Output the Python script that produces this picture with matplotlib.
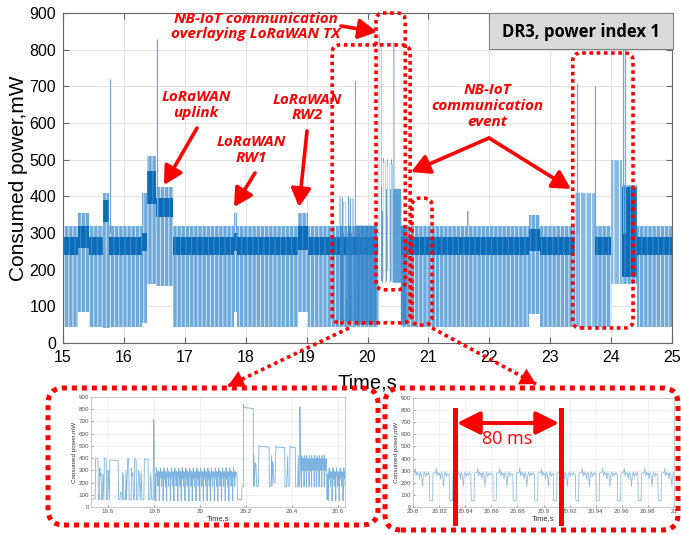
import matplotlib
matplotlib.use("Agg")
import matplotlib.pyplot as plt
from matplotlib.patches import FancyBboxPatch, Rectangle, FancyArrowPatch
from matplotlib.lines import Line2D
from matplotlib.transforms import IdentityTransform

# ---------------- main trace: dense sections (time range, floor/top of the light band, dark core)
band_start = [15.00, 15.24, 15.42, 15.66, 15.76, 16.30, 16.38, 16.52, 16.80, 17.80, 17.86, 18.86, 19.02,
              19.50, 19.72, 20.55, 21.63, 21.67, 22.66, 22.84, 23.73, 24.18, 24.42]
band_end = [15.24, 15.42, 15.66, 15.76, 16.30, 16.38, 16.52, 16.80, 17.80, 17.86, 18.86, 19.02, 19.50,
            19.72, 20.18, 21.63, 21.67, 22.66, 22.84, 23.40, 24.00, 24.42, 25.00]
band_floor = [45, 85, 45, 40, 45, 55, 160, 155, 45, 85, 45, 85, 45, 45, 45, 45, 45, 45, 80, 45, 45, 160, 45]
band_top = [320, 355, 320, 410, 320, 410, 510, 425, 320, 355, 320, 355, 320, 320, 320, 320, 360, 320, 350, 320,
            320, 430, 320]
core_lo = [240, 260, 240, 330, 240, 250, 380, 345, 240, 250, 240, 255, 240, 240, 240, 240, 240, 240, 250, 240,
           240, 180, 240]
core_hi = [288, 318, 288, 390, 288, 300, 470, 395, 288, 300, 288, 320, 288, 288, 288, 288, 288, 288, 310, 288,
           288, 425, 288]

# sparse sections (NB-IoT event at ~23.5 s)
sparse_start = [23.40, 24.00]
sparse_end = [23.73, 24.18]
sparse_floor = [45, 160]
sparse_top = [410, 500]

# isolated spikes
spike_t = [15.77, 16.54, 23.44, 23.73, 24.20, 24.23]
spike_p = [720, 830, 710, 700, 900, 895]

# ---------------- detailed trace 19.5 - 20.65 s (left zoom)
part1_t = [19.515, 19.544, 19.546, 19.556, 19.558, 19.562, 19.5645, 19.566, 19.570, 19.572, 19.576, 19.578,
           19.582, 19.584, 19.592, 19.594, 19.598, 19.600, 19.602, 19.606, 19.608, 19.644, 19.646, 19.652,
           19.654, 19.660, 19.662, 19.664, 19.666, 19.670, 19.676, 19.678, 19.680, 19.686, 19.690, 19.692,
           19.700, 19.702, 19.704, 19.708, 19.710, 19.714, 19.716, 19.722, 19.724, 19.730, 19.732, 19.736,
           19.740, 19.744, 19.748, 19.756, 19.758, 19.774, 19.776, 19.782, 19.786, 19.790, 19.796, 19.798,
           19.800, 19.802, 19.806]
part1_p = [65, 65, 400, 395, 60, 60, 320, 250, 275, 60, 60, 270,
           60, 400, 395, 60, 60, 300, 265, 60, 385, 380, 60, 60,
           120, 110, 60, 280, 250, 60, 60, 300, 60, 400, 395, 60,
           60, 320, 260, 280, 60, 60, 395, 390, 60, 60, 300, 260,
           60, 290, 60, 60, 395, 385, 60, 60, 280, 60, 60, 715,
           700, 60, 60]

part2_t = [20.160, 20.163, 20.181, 20.182, 20.188, 20.189, 20.192, 20.231, 20.232, 20.234, 20.236, 20.240,
           20.243, 20.246, 20.250, 20.254, 20.256, 20.260, 20.300, 20.301, 20.308, 20.311, 20.313, 20.316,
           20.318, 20.321, 20.326, 20.330, 20.334, 20.368, 20.369, 20.376, 20.381, 20.383, 20.390, 20.391,
           20.395, 20.414, 20.415, 20.424, 20.427, 20.429, 20.433, 20.434, 20.436, 20.440]
part2_p = [280, 60, 60, 170, 170, 840, 815, 805, 170, 425, 170, 360,
           350, 170, 165, 175, 505, 495, 490, 165, 170, 420, 170, 370,
           340, 200, 200, 500, 490, 485, 165, 170, 420, 170, 170, 500,
           490, 485, 165, 170, 420, 165, 165, 820, 400, 165]

part3_t = [20.550, 20.551, 20.556]
part3_p = [380, 60, 60]

# one idle cycle of the NB-IoT module (ms after the dip, mW)
idle_ms = [0.0, 0.3, 2.5, 2.8, 4.8, 5.3, 5.8, 6.6, 7.4, 8.0, 8.6, 9.2, 10.0, 10.8, 11.4, 12.2, 13.0, 13.8, 14.6, 15.4, 16.0]
idle_mw = [270, 55, 50, 280, 285, 320, 255, 290, 265, 280, 230, 285, 270, 170, 260, 290, 250, 280, 265, 285, 270]

# one cycle while LoRaWAN TX overlays (ms, mW)
tx_ms = [0.0, 0.4, 1.6, 2.0, 2.6, 3.6, 4.6, 5.4, 6.2, 7.0, 7.6, 8.6, 9.6, 10.6]
tx_mw = [380, 165, 165, 420, 385, 370, 395, 360, 390, 300, 385, 375, 395, 380]

idleA_starts = [19.806, 19.822, 19.838, 19.853, 19.870, 19.885, 19.902, 19.917, 19.933, 19.950, 19.965,
                19.981, 19.997, 20.013, 20.029, 20.044, 20.061, 20.076, 20.092, 20.108, 20.124, 20.140]
tx_starts = [20.440, 20.451, 20.4615, 20.473, 20.4835, 20.495, 20.506, 20.5165, 20.528, 20.539]
idleA2_starts = [20.556, 20.5725, 20.588, 20.6035, 20.620, 20.6355]
idleB_starts = [20.7965, 20.8125, 20.8278, 20.8443, 20.8612, 20.8765, 20.8930, 20.9075, 20.9244,
                20.9401, 20.9566, 20.9723, 20.9876]

yticks = list(range(0, 1000, 100))


def tile(starts, end, ms, mw):
    ts, ps = [], []
    for i, s in enumerate(starts):
        nxt = starts[i + 1] if i + 1 < len(starts) else end
        for o, v in zip(ms, mw):
            if s + o / 1000 < nxt:
                ts.append(s + o / 1000)
                ps.append(v)
    return ts, ps


ia_t, ia_p = tile(idleA_starts, 20.160, idle_ms, idle_mw)
tx_t, tx_p = tile(tx_starts, 20.550, tx_ms, tx_mw)
ia2_t, ia2_p = tile(idleA2_starts, 20.65, idle_ms, idle_mw)
trace_t = part1_t + ia_t + part2_t + tx_t + part3_t + ia2_t
trace_p = part1_p + ia_p + part2_p + tx_p + part3_p + ia2_p
zoomB_t, zoomB_p = tile(idleB_starts, 21.004, idle_ms, idle_mw)

# ---------------- figure
W, H = 681, 535
plt.rcParams['font.family'] = ['Liberation Sans', 'DejaVu Sans']
plt.rcParams['hatch.linewidth'] = 0.7
fig = plt.figure(figsize=(W / 100, H / 100), dpi=100)


def fr(x0, y0, x1, y1):
    return [x0 / W, 1 - y1 / H, (x1 - x0) / W, (y1 - y0) / H]


light = '#6ea9dc'
dark = '#0b6cb8'
line_c = '#2a80c8'

ax = fig.add_axes(fr(63, 13, 672, 343))
for t0, t1, lo, hi, c0, c1 in zip(band_start, band_end, band_floor, band_top, core_lo, core_hi):
    ax.fill_between([t0, t1], [lo, lo], [hi, hi], facecolor=light, edgecolor='#d6e7f6', hatch='||||', lw=0)
    ax.fill_between([t0, t1], [c0, c0], [c1, c1], facecolor=dark, edgecolor='#3f8cd1', hatch='|||', lw=0)
for t0, t1, lo, hi in zip(sparse_start, sparse_end, sparse_floor, sparse_top):
    ax.fill_between([t0, t1], [lo, lo], [hi, hi], facecolor='#86b9e4', edgecolor='#ffffff', hatch='|||', lw=0)
ax.vlines(spike_t, 300, spike_p, color=light, lw=0.9)
ax.plot(trace_t, trace_p, color=line_c, lw=0.35, alpha=0.75)

ax.set_xlim(15, 25)
ax.set_ylim(0, 900)
ax.set_xticks(range(15, 26))
ax.set_yticks(yticks)
ax.grid(color='#e4e4e4', lw=0.8)
ax.set_axisbelow(True)
ax.tick_params(direction='in', top=True, right=True, length=4, labelsize=11.5, color='#666666', pad=5)
for s in ax.spines.values():
    s.set_color('#666666')
    s.set_linewidth(0.8)
ax.set_ylabel('Consumed power,mW', fontsize=15, labelpad=1)
ax.set_xlabel('Time,s', fontsize=14.5, labelpad=6)


def style_inset(a):
    a.set_ylim(0, 900)
    a.set_yticks(yticks)
    a.grid(color='#ececec', lw=0.5)
    a.set_axisbelow(True)
    a.tick_params(direction='in', length=1.5, labelsize=4.5, colors='#555555', pad=1.5, width=0.4)
    for s in a.spines.values():
        s.set_color('#c0c0c0')
        s.set_linewidth(0.6)
    a.set_ylabel('Consumed power,mW', fontsize=4.5, labelpad=1, color='#333333')
    a.set_xlabel('Time,s', fontsize=5.5, labelpad=0.5, color='#333333')


axA = fig.add_axes(fr(91, 397, 345, 507))
axA.plot(trace_t, trace_p, color='#7db3e0', lw=0.6)
axA.set_xlim(19.526, 20.63)
axA.set_xticks([19.6, 19.8, 20.0, 20.2, 20.4, 20.6])
axA.set_xticklabels(['19.6', '19.8', '20', '20.2', '20.4', '20.6'])
style_inset(axA)

axB = fig.add_axes(fr(413, 398, 674, 507))
axB.plot(zoomB_t, zoomB_p, color='#8fbde3', lw=0.6)
axB.set_xlim(20.8, 21.0)
bt = [20.8 + 0.02 * i for i in range(11)]
axB.set_xticks(bt)
axB.set_xticklabels(['20.8', '20.82', '20.84', '20.86', '20.88', '20.9', '20.92', '20.94', '20.96', '20.98', '21'])
style_inset(axB)

# ---------------- overlays (display pixels, y from the bottom)
ID = IdentityTransform()


def dotted_box(x0, y0, x1, y1, lw, r):
    p = FancyBboxPatch((x0, y0), x1 - x0, y1 - y0, boxstyle='round,pad=0,rounding_size=%g' % r,
                       transform=ID, fill=False, ec='red', lw=lw, ls=(0, (1, 1)), zorder=5)
    fig.add_artist(p)


def arrow(xs, ys, xe, ye, style, lw, ms):
    fig.add_artist(FancyArrowPatch((xs, H - ys), (xe, H - ye), transform=ID, arrowstyle=style, color='red',
                                   lw=lw, mutation_scale=ms, shrinkA=0, shrinkB=0, zorder=6))


# boxes around regions of the main trace (data coords)
for (t0, p0, t1, p1) in [(19.42, 55, 20.70, 813), (20.14, 145, 20.62, 900),
                         (20.73, 49, 21.06, 395), (23.37, 41, 24.36, 791)]:
    (x0, y0) = ax.transData.transform((t0, p0))
    (x1, y1) = ax.transData.transform((t1, p1))
    dotted_box(x0, y0, x1, y1, 2.6, 8)

# frames around the two zooms
dotted_box(48, H - 525, 378, H - 388, 3.6, 16)
dotted_box(385, H - 530, 678, H - 388, 3.6, 16)

# connectors
for (xs, ys, xe, ye) in [(349, 328, 228, 386), (432, 328, 536, 384)]:
    fig.add_artist(Line2D([xs, xe], [H - ys, H - ye], transform=ID, color='red', lw=2.6, ls=(0, (1, 1)),
                          zorder=5))
    dx, dy = xe - xs, ye - ys
    arrow(xe - dx * 0.08, ye - dy * 0.08, xe, ye, '-|>,head_length=0.8,head_width=0.45', 0.1, 14)

# info box
fig.add_artist(Rectangle((489, H - 49), 184, 36, transform=ID, fc='#dadada', ec='#808080', lw=0.8, zorder=4))
fig.text(581 / W, 1 - 32 / H, 'DR3, power index 1', ha='center', va='center', fontsize=12,
         fontweight='bold', family=['Open Sans', 'Lato', 'DejaVu Sans'], zorder=6)

red_kw = dict(color='red', fontsize=11, fontweight='bold', fontstyle='italic', ha='center', va='center',
              linespacing=1.15, family=['Open Sans', 'Lato', 'DejaVu Sans'], zorder=6)
fig.text(256 / W, 1 - 26.5 / H, 'NB-IoT communication\noverlaying LoRaWAN TX', **red_kw)
fig.text(196 / W, 1 - 105 / H, 'LoRaWAN\nuplink', **red_kw)
fig.text(251 / W, 1 - 150 / H, 'LoRaWAN\nRW1', **red_kw)
fig.text(307.5 / W, 1 - 107.5 / H, 'LoRaWAN\nRW2', **red_kw)
fig.text(487.5 / W, 1 - 106 / H, 'NB-IoT\ncommunication\nevent', **red_kw)

for (xs, ys, xe, ye) in [(341, 26, 377, 32), (197, 128, 164, 185), (255, 173, 234, 207),
                         (307, 131, 299, 207), (489, 138, 411, 172), (489, 138, 571, 189)]:
    arrow(xs, ys, xe, ye, '-|>,head_length=0.55,head_width=0.3', 2.6, 20)

# 80 ms marker
for x in (455, 561):
    fig.add_artist(Line2D([x, x], [H - 410, H - 523], transform=ID, color='red', lw=3.6, zorder=6))
arrow(457, 423, 559, 423, '<|-|>,head_length=0.7,head_width=0.35', 2.8, 20)
fig.text(507 / W, 1 - 439 / H, '80 ms', color='red', fontsize=13, ha='center', va='center',
         family=['Open Sans', 'Lato', 'DejaVu Sans'], zorder=6)

fig.savefig('out.png', dpi=100)
